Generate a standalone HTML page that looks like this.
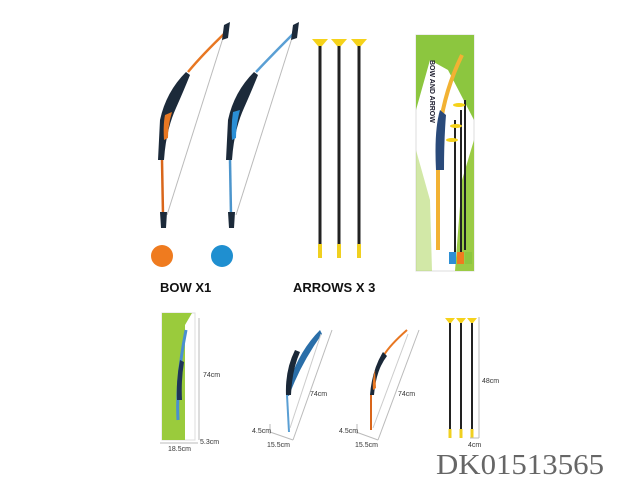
<!DOCTYPE html>
<html><head><meta charset="utf-8"><style>
html,body{margin:0;padding:0;background:#fff;width:640px;height:480px;overflow:hidden}
svg{display:block}
</style></head><body>
<svg width="640" height="480" viewBox="0 0 640 480" xmlns="http://www.w3.org/2000/svg" font-family="Liberation Sans, sans-serif">
<!-- orange bow -->
<line x1="223" y1="38" x2="167" y2="215" stroke="#bbb" stroke-width="1"/>
<path d="M226 32 Q202 55 188 72" stroke="#e87722" stroke-width="2.5" fill="none"/>
<path d="M186 72 Q166 92 160 120 L158 160 L164 160 Q166 130 176 108 Q184 90 190 75 Z" fill="#1c2a3a"/>
<path d="M165 115 Q163 125 164 140 L168 138 Q168 125 172 112 Z" fill="#e87722"/>
<path d="M162 160 L163 215" stroke="#d9661b" stroke-width="2.5"/>
<path d="M224 25 L230 22 L228 38 L222 40 Z" fill="#1c2a3a"/>
<path d="M160 212 L167 212 L166 228 L161 228 Z" fill="#1c2a3a"/>
<circle cx="162" cy="256" r="11" fill="#ef7b1f"/>
<!-- blue bow -->
<line x1="292" y1="38" x2="236" y2="215" stroke="#bbb" stroke-width="1"/>
<path d="M295 32 Q272 55 256 72" stroke="#5a9fd4" stroke-width="2.5" fill="none"/>
<path d="M254 72 Q234 92 228 120 L226 160 L232 160 Q234 130 244 108 Q252 90 258 75 Z" fill="#1c2a3a"/>
<path d="M233 112 Q231 125 232 140 L236 138 Q236 125 240 110 Z" fill="#2b8fd6"/>
<path d="M230 160 L231 215" stroke="#4c95cc" stroke-width="2.5"/>
<path d="M293 25 L299 22 L297 38 L291 40 Z" fill="#1c2a3a"/>
<path d="M228 212 L235 212 L234 228 L229 228 Z" fill="#1c2a3a"/>
<circle cx="222" cy="256" r="11" fill="#1f8fd0"/>
<!-- arrows -->
<g>
<g transform="translate(320,0)"><path d="M-8 39 L8 39 L2 46 L-2 46 Z" fill="#f5d21a"/><rect x="-1.5" y="46" width="3" height="200" fill="#222"/><rect x="-2" y="244" width="4" height="14" fill="#f0d020"/></g>
<g transform="translate(339,0)"><path d="M-8 39 L8 39 L2 46 L-2 46 Z" fill="#f5d21a"/><rect x="-1.5" y="46" width="3" height="200" fill="#222"/><rect x="-2" y="244" width="4" height="14" fill="#f0d020"/></g>
<g transform="translate(359,0)"><path d="M-8 39 L8 39 L2 46 L-2 46 Z" fill="#f5d21a"/><rect x="-1.5" y="46" width="3" height="200" fill="#222"/><rect x="-2" y="244" width="4" height="14" fill="#f0d020"/></g>
</g>
<text x="160" y="292" font-size="13" font-weight="bold" fill="#111">BOW  X1</text>
<text x="293" y="292" font-size="13" font-weight="bold" fill="#111">ARROWS  X 3</text>
<!-- box -->
<rect x="416" y="35" width="58" height="236" fill="#fff" stroke="#ddd"/>
<path d="M416 35 L474 35 L474 120 L448 70 L430 60 L416 110 Z" fill="#8cc63f"/>
<path d="M416 150 L416 271 L432 271 L430 200 Z" fill="#a6d14f" opacity="0.5"/>
<path d="M474 140 L474 271 L455 271 L462 180 Z" fill="#9bcb45"/>
<path d="M462 55 Q440 100 438 150 L438 250" stroke="#f2b233" stroke-width="4" fill="none"/>
<path d="M440 110 Q434 130 436 170 L444 170 Q444 140 446 115 Z" fill="#2a4a7a"/>
<line x1="455" y1="120" x2="455" y2="260" stroke="#222" stroke-width="2"/>
<line x1="461" y1="110" x2="461" y2="255" stroke="#222" stroke-width="2"/>
<line x1="465" y1="100" x2="465" y2="250" stroke="#222" stroke-width="2"/>
<ellipse cx="459" cy="105" rx="6" ry="2" fill="#f5d21a"/>
<ellipse cx="456" cy="126" rx="6" ry="2" fill="#f5d21a"/>
<ellipse cx="452" cy="140" rx="6" ry="2" fill="#f5d21a"/>
<rect x="449" y="252" width="7" height="12" fill="#2d8fd4"/><rect x="457" y="252" width="7" height="12" fill="#ef7b1f"/><rect x="465" y="252" width="7" height="12" fill="#8cc63f"/>
<text transform="translate(430,60) rotate(90)" font-size="7" font-weight="bold" fill="#223">BOW AND ARROW</text>
<!-- bottom small box -->
<rect x="162" y="313" width="33" height="127" fill="#fff" stroke="#ddd"/>
<path d="M162 313 L192 313 L185 325 L185 440 L162 440 Z" fill="#9acb3c"/>
<path d="M186 330 Q176 380 178 420" stroke="#4a8fd0" stroke-width="3" fill="none"/>
<path d="M180 360 Q176 380 177 400 L182 400 Q181 380 184 362 Z" fill="#1f3558"/>
<line x1="199" y1="318" x2="199" y2="440" stroke="#bbb"/>
<line x1="160" y1="443" x2="198" y2="443" stroke="#bbb"/>
<text x="203" y="377" font-size="7" fill="#333">74cm</text>
<text x="200" y="444" font-size="7" fill="#333">5.3cm</text>
<text x="168" y="451" font-size="7" fill="#333">18.5cm</text>
<!-- bottom blue bow -->
<path d="M320 330 Q300 350 290 380 L286 395 L289 396 Q300 365 322 334 Z" fill="#2a6ea8"/>
<path d="M295 350 Q285 370 286 395 L291 395 Q292 370 300 352 Z" fill="#1a2838"/>
<path d="M287 395 L289 432" stroke="#5a9fd4" stroke-width="2"/>
<line x1="321" y1="334" x2="290" y2="428" stroke="#ccc"/>
<line x1="332" y1="330" x2="293" y2="440" stroke="#bbb"/>
<line x1="270" y1="432" x2="293" y2="440" stroke="#bbb"/>
<line x1="270" y1="424" x2="270" y2="434" stroke="#bbb"/>
<text x="310" y="396" font-size="7" fill="#333">74cm</text>
<text x="252" y="433" font-size="7" fill="#333">4.5cm</text>
<text x="267" y="447" font-size="7" fill="#333">15.5cm</text>
<!-- bottom orange bow -->
<path d="M407 330 Q390 345 384 355" stroke="#e87722" stroke-width="2" fill="none"/>
<path d="M383 352 Q372 370 370 395 L374 395 Q376 370 387 356 Z" fill="#1a2838"/>
<path d="M375 370 Q372 380 373 390 L376 388 Z" fill="#e87722"/>
<path d="M371 395 L371 430" stroke="#d9661b" stroke-width="2"/>
<line x1="408" y1="334" x2="373" y2="428" stroke="#ccc"/>
<line x1="419" y1="330" x2="378" y2="440" stroke="#bbb"/>
<line x1="356" y1="432" x2="378" y2="440" stroke="#bbb"/>
<line x1="357" y1="424" x2="357" y2="434" stroke="#bbb"/>
<text x="398" y="396" font-size="7" fill="#333">74cm</text>
<text x="339" y="433" font-size="7" fill="#333">4.5cm</text>
<text x="355" y="447" font-size="7" fill="#333">15.5cm</text>
<!-- bottom arrows -->
<g transform="translate(450,0)"><path d="M-5 318 L5 318 L1 323 L-1 323 Z" fill="#f5d21a"/><rect x="-1" y="323" width="2" height="106" fill="#222"/><rect x="-1.5" y="429" width="3" height="9" fill="#f0d020"/></g>
<g transform="translate(461,0)"><path d="M-5 318 L5 318 L1 323 L-1 323 Z" fill="#f5d21a"/><rect x="-1" y="323" width="2" height="106" fill="#222"/><rect x="-1.5" y="429" width="3" height="9" fill="#f0d020"/></g>
<g transform="translate(472,0)"><path d="M-5 318 L5 318 L1 323 L-1 323 Z" fill="#f5d21a"/><rect x="-1" y="323" width="2" height="106" fill="#222"/><rect x="-1.5" y="429" width="3" height="9" fill="#f0d020"/></g>
<line x1="479" y1="317" x2="479" y2="438" stroke="#bbb"/>
<line x1="470" y1="438" x2="479" y2="438" stroke="#bbb"/>
<text x="482" y="383" font-size="7" fill="#333">48cm</text>
<text x="468" y="447" font-size="7" fill="#333">4cm</text>
<text x="436" y="474" font-family="Liberation Serif, serif" font-size="29" fill="#666" textLength="168" lengthAdjust="spacingAndGlyphs">DK01513565</text>
</svg>
</body></html>
